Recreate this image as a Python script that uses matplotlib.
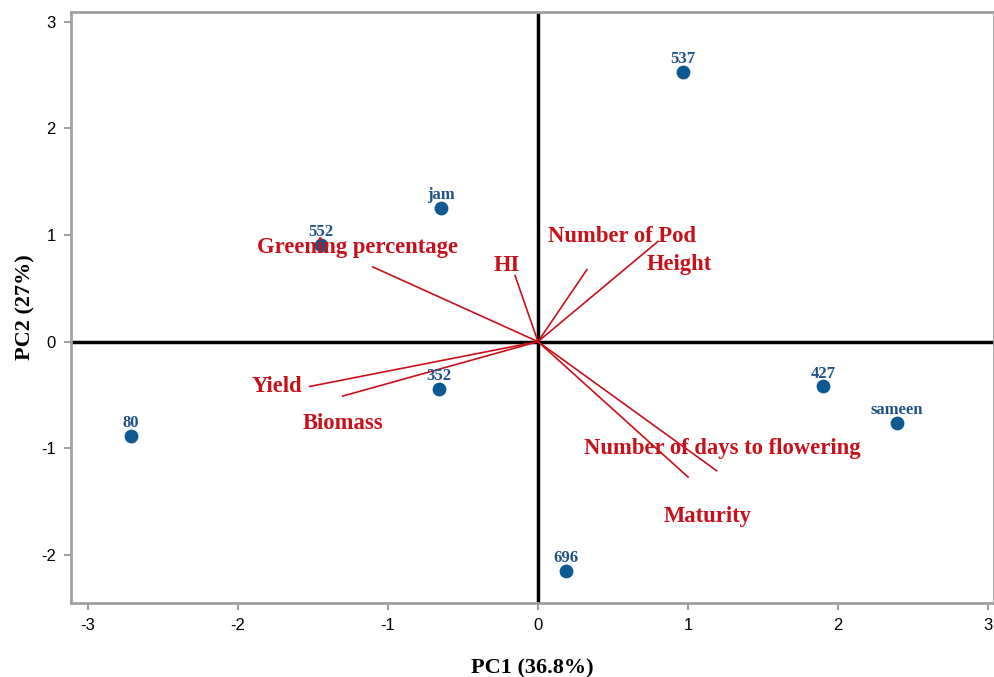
import numpy as np
import matplotlib
matplotlib.use("Agg")
from matplotlib import pyplot as plt

plt.rcParams['axes.unicode_minus'] = False

# genotype scores
genotypes = ['537', 'jam', '552', '352', '80', '427', 'sameen', '696']
pc1_scores = [0.965, -0.646, -1.445, -0.66, -2.71, 1.90, 2.39, 0.186]
pc2_scores = [2.53, 1.25, 0.91, -0.44, -0.88, -0.42, -0.76, -2.15]

# trait loadings (line end points)
traits = ['Greening percentage', 'HI', 'Number of Pod', 'Height', 'Yield',
          'Biomass', 'Number of days to flowering', 'Maturity']
pc1_load = [-1.10, -0.153, 0.326, 0.80, -1.52, -1.30, 1.19, 1.0]
pc2_load = [0.70, 0.62, 0.675, 0.94, -0.42, -0.51, -1.21, -1.27]

# trait label positions
label_x = [-1.20, -0.21, 0.56, 0.94, -1.74, -1.30, 1.23, 1.13]
label_y = [0.88, 0.71, 0.99, 0.72, -0.42, -0.77, -1.00, -1.64]

point_color = '#0d5a93'
text_blue = '#1f5088'
red = '#c8101a'
grey = '#a0a0a0'

fig = plt.figure(figsize=(9.95, 6.77), dpi=100)
ax = fig.add_axes([0.0714, 0.1093, 0.928, 0.873])

ax.axhline(0, color='black', lw=2.5, zorder=1)
ax.axvline(0, color='black', lw=2.5, zorder=1)

for x, y in zip(pc1_load, pc2_load):
    ax.plot([0, x], [0, y], color=red, lw=1.2, zorder=2)

ax.scatter(pc1_scores, pc2_scores, s=80, color=point_color, zorder=3)
for name, x, y in zip(genotypes, pc1_scores, pc2_scores):
    ax.text(x, y + 0.045, name, ha='center', va='bottom', color=text_blue,
            fontsize=12, fontweight='bold', family='Liberation Serif', zorder=4)

for name, x, y in zip(traits, label_x, label_y):
    ax.text(x, y, name, ha='center', va='center', color=red,
            fontsize=16.3, fontweight='bold', family='Liberation Serif', zorder=4)

ax.set_xlim(-3.11, 3.04)
ax.set_ylim(-2.45, 3.09)
ax.set_xticks([-3, -2, -1, 0, 1, 2, 3])
ax.set_yticks([-2, -1, 0, 1, 2, 3])

for side in ['left', 'bottom', 'top', 'right']:
    ax.spines[side].set_color(grey)
    ax.spines[side].set_linewidth(2)
ax.tick_params(color=grey, length=5, width=1.5, labelsize=12, pad=6)
for lbl in ax.get_xticklabels() + ax.get_yticklabels():
    lbl.set_family('Liberation Sans')

ax.set_xlabel('PC1 (36.8%)', fontsize=16, fontweight='bold', family='Liberation Serif', labelpad=18)
ax.set_ylabel('PC2 (27%)', fontsize=16, fontweight='bold', family='Liberation Serif', labelpad=4)

fig.savefig('out.png', dpi=100)
